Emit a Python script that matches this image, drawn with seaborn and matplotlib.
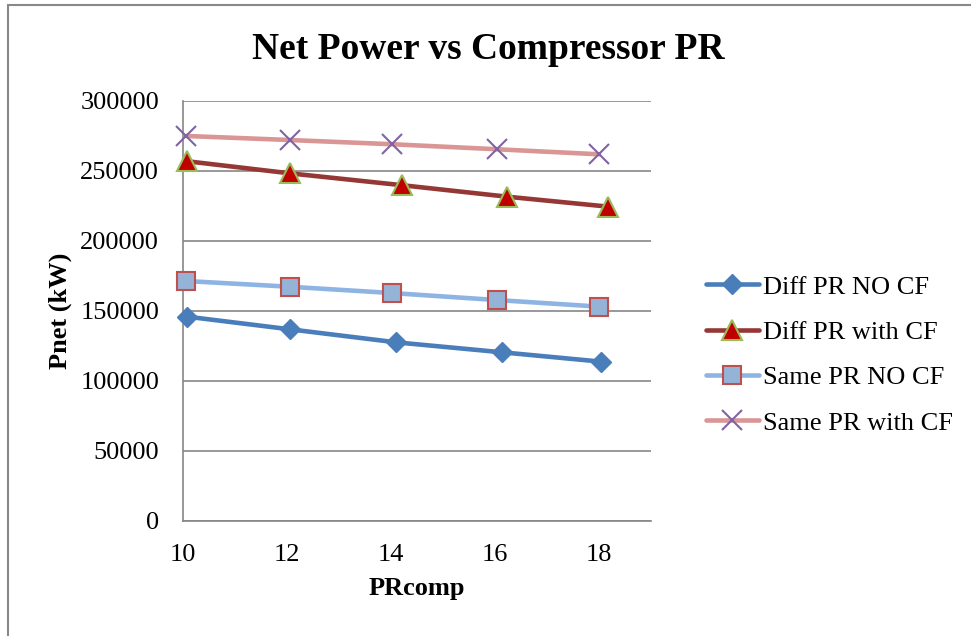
import matplotlib
matplotlib.use("Agg")
import matplotlib.pyplot as plt
from matplotlib.patches import Rectangle
import numpy as np
import pandas as pd
import seaborn as sns

# values
labels = ["Diff PR NO CF", "Diff PR with CF", "Same PR NO CF", "Same PR with CF"]
x_diff_nocf = [10.09, 12.06, 14.10, 16.13, 18.04]
x_diff_cf = [10.09, 12.06, 14.22, 16.24, 18.18]
x_same = [10.06, 12.06, 14.02, 16.04, 18.00]
diff_nocf = [145700, 136700, 127400, 120300, 113600]
diff_cf = [256700, 248100, 239600, 231400, 224300]
same_nocf = [171200, 167100, 162600, 157600, 152900]
same_cf = [274800, 271900, 268900, 265300, 261700]
x_ticks = [10, 12, 14, 16, 18]
y_ticks = [0, 50000, 100000, 150000, 200000, 250000, 300000]

series = [
    (labels[0], x_diff_nocf, diff_nocf),
    (labels[1], x_diff_cf, diff_cf),
    (labels[2], x_same, same_nocf),
    (labels[3], x_same, same_cf),
]

# line colour, marker, marker size, face colour, edge colour, edge width
styles = {
    labels[0]: ("#4A7EBB", "D", 10.5, "#4A7EBB", "#4A7EBB", 1.0),
    labels[1]: ("#953735", "^", 15, "#C00000", "#9BBB59", 1.5),
    labels[2]: ("#8EB4E3", "s", 13.5, "#95B3D7", "#C0504D", 1.5),
    labels[3]: ("#D99694", "x", 14, "#8064A2", "#8064A2", 1.5),
}

sns.set_style("white")
plt.rcParams["font.family"] = ["Liberation Serif", "DejaVu Serif"]
plt.rcParams["text.color"] = "black"
plt.rcParams["axes.labelcolor"] = "black"

fig = plt.figure(figsize=(9.71, 6.36), dpi=100)
ax = fig.add_axes([0.1882, 0.1813, 0.4822, 0.6604])

for name, xs, ys in series:
    df = pd.DataFrame({"PRcomp": xs, "Pnet": ys})
    lc, mk, ms, fc, ec, mew = styles[name]
    sns.lineplot(data=df, x="PRcomp", y="Pnet", ax=ax, color=lc, linewidth=3.3,
                 marker=mk, markersize=ms, markerfacecolor=fc,
                 markeredgecolor=ec, markeredgewidth=mew, label=name,
                 clip_on=False, zorder=3)

ax.set_xlim(10, 19)
ax.set_ylim(0, 300000)
ax.set_xticks(x_ticks)
ax.set_yticks(y_ticks)
ax.tick_params(axis="both", labelsize=19, length=0, colors="black")
ax.tick_params(axis="x", pad=17)
ax.tick_params(axis="y", pad=17)
ax.grid(axis="y", color="#868686", linewidth=1.2)
ax.set_axisbelow(True)
for side in ["top", "right"]:
    ax.spines[side].set_visible(False)
for side in ["left", "bottom"]:
    ax.spines[side].set_color("#868686")
    ax.spines[side].set_linewidth(1.2)

ax.set_xlabel("PRcomp", fontsize=19, fontweight="bold", labelpad=8)
ax.set_ylabel("Pnet (kW)", fontsize=19, fontweight="bold", labelpad=6)
fig.text(0.503, 0.922, "Net Power vs Compressor PR", fontsize=27,
         fontweight="bold", ha="center", va="center")

ax.legend().remove()
handles, lbls = ax.get_legend_handles_labels()
fig.legend(handles, lbls, loc="center left", bbox_to_anchor=(0.716, 0.442),
           frameon=False, fontsize=19, handlelength=2.0, handletextpad=0.15,
           labelspacing=0.83, borderaxespad=0)

# outer chart frame (right and bottom edges fall outside the picture)
fig.patches.append(Rectangle((8 / 971, -0.1), 1.2, 1.1 - 5 / 636,
                             transform=fig.transFigure, fill=False,
                             edgecolor="#888888", linewidth=1.5))

fig.savefig("out.png", dpi=100)
